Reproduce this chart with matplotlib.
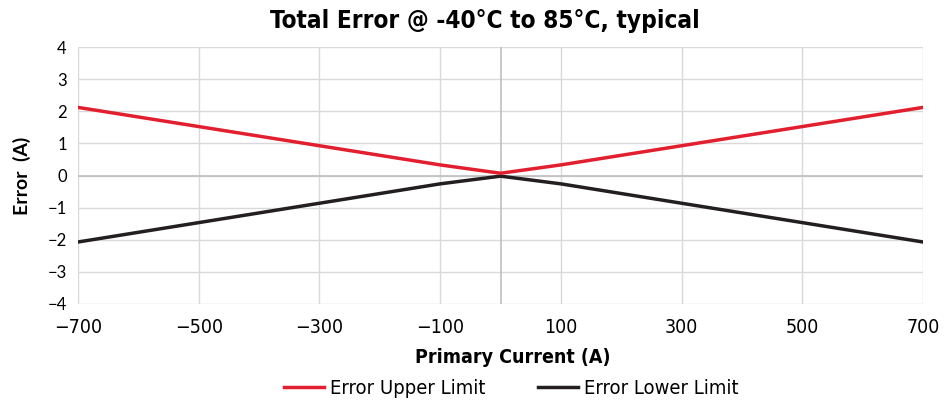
import matplotlib
matplotlib.use("Agg")
import matplotlib.pyplot as plt

current = [-700, -100, 0, 100, 700]
upper = [2.12, 0.33, 0.07, 0.33, 2.12]
lower = [-2.07, -0.26, -0.02, -0.26, -2.07]
xticks = [-700, -500, -300, -100, 100, 300, 500, 700]
yticks = [-4, -3, -2, -1, 0, 1, 2, 3, 4]

fig = plt.figure(figsize=(9.5, 4), dpi=100)
ax = fig.add_axes([0.0821, 0.24, 0.8895, 0.6425])

for x in xticks:
    ax.axvline(x, color="#d9d9d9", lw=1, zorder=0)
for y in yticks:
    ax.axhline(y, color="#d9d9d9", lw=1, zorder=0)
ax.axvline(0, color="#bfbfbf", lw=1.2, zorder=0.5)
ax.axhline(0, color="#bfbfbf", lw=1.2, zorder=0.5)

ax.plot(current, upper, color="#e21f2f", lw=2.5, label="Error Upper Limit", zorder=3)
ax.plot(current, lower, color="#231f20", lw=2.5, label="Error Lower Limit", zorder=2)

ax.set_xlim(-700, 700)
ax.set_ylim(-4, 4)
ax.set_xticks(xticks)
ax.set_yticks(yticks)
for s in ax.spines.values():
    s.set_visible(False)
ax.tick_params(length=0)
ax.tick_params(axis="x", pad=10)
ax.tick_params(axis="y", pad=8)
for lab in ax.get_xticklabels():
    lab.set_fontfamily("DejaVu Sans"); lab.set_fontstretch("condensed"); lab.set_fontsize(14)
for lab in ax.get_yticklabels():
    lab.set_fontfamily("Lato"); lab.set_fontsize(12)

ax.set_xlabel("Primary Current (A)", fontsize=14, fontweight="bold", fontfamily="DejaVu Sans",
              fontstretch="condensed", labelpad=8)
ax.xaxis.set_label_coords(0.514, -0.17)
ax.set_ylabel("Error  (A)", fontsize=14, fontweight="bold", fontfamily="Lato", labelpad=12)
fig.suptitle("Total Error @ -40°C to 85°C, typical", x=0.51, y=0.978, fontsize=17.5,
             fontweight="bold", fontfamily="DejaVu Sans", fontstretch="condensed")

leg = fig.legend(loc="lower center", bbox_to_anchor=(0.538, -0.04), ncol=2, frameon=False,
                 prop={"family": "DejaVu Sans", "stretch": "condensed", "size": 14.5},
                 handlelength=2.0, columnspacing=2.6, handletextpad=0.3)
fig.savefig("out.png", dpi=100)
